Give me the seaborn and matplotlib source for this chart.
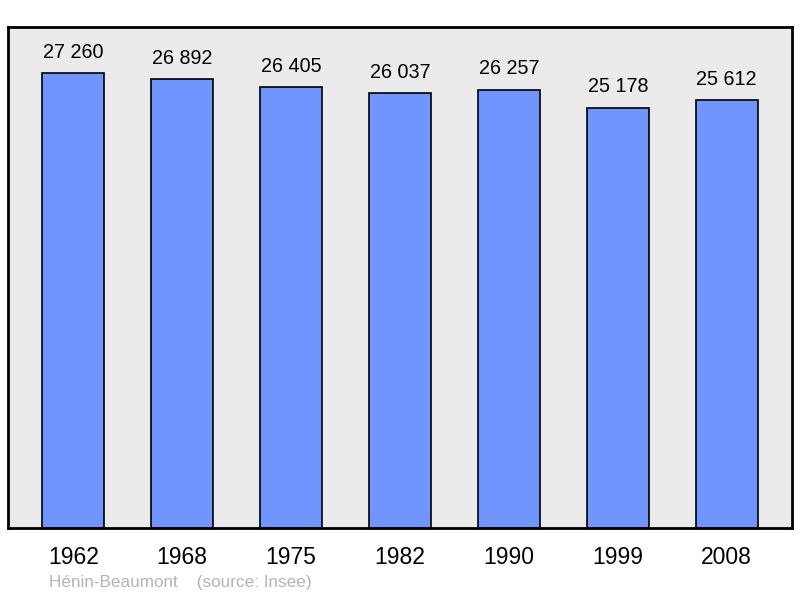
import matplotlib
matplotlib.use("Agg")
import matplotlib.pyplot as plt
import seaborn as sns
import pandas as pd

years = ["1962", "1968", "1975", "1982", "1990", "1999", "2008"]
population = [27260, 26892, 26405, 26037, 26257, 25178, 25612]
value_labels = ["27 260", "26 892", "26 405", "26 037", "26 257", "25 178", "25 612"]

sns.set_theme(style="white")
plt.rcParams["font.family"] = ["Liberation Sans", "DejaVu Sans"]

df = pd.DataFrame({"year": years, "pop": population})

fig = plt.figure(figsize=(8, 5.98), dpi=100)
ax = fig.add_axes([0.01, 1 - 528 / 598, 0.98, (528 - 27) / 598])
ax.set_facecolor("#ebebeb")

sns.barplot(data=df, x="year", y="pop", color="#7095ff", width=0.57,
            edgecolor="black", linewidth=1.2, saturation=1, ax=ax)

ax.set_xlim(-0.6, 6.6)
ax.set_ylim(0, 30000)
ax.set_xlabel("")
ax.set_ylabel("")
ax.set_yticks([])
ax.tick_params(axis="x", length=0, labelsize=16.5, pad=13, colors="black")
for s in ax.spines.values():
    s.set_visible(True)
    s.set_color("black")
    s.set_linewidth(2)

for i, (v, lab) in enumerate(zip(population, value_labels)):
    ax.annotate(lab, (i, v), xytext=(0, 8), textcoords="offset points",
                ha="center", va="bottom", fontsize=14.2, color="black")

fig.text(49 / 800, 1 - 583 / 598, "Hénin-Beaumont    (source: Insee)",
         fontsize=12.3, color="#b4b4b4", ha="left", va="center")

fig.savefig("out.png", dpi=100)
